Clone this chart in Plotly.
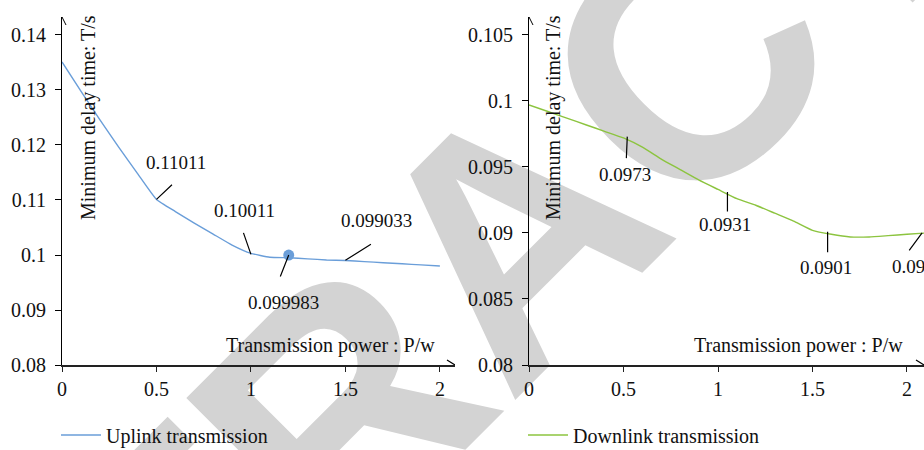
import plotly.graph_objects as go

# ---------------- data ----------------
P_UP = [0.0, 0.1, 0.2, 0.3, 0.4, 0.5, 0.6, 0.7, 0.8, 0.9, 1.0,
        1.1, 1.2, 1.3, 1.4, 1.5, 1.6, 1.7, 1.8, 1.9, 2.0]
T_UP = [0.1351, 0.1298, 0.1246, 0.1196, 0.1148, 0.1101, 0.1079, 0.1058, 0.1038, 0.1018, 0.1003,
        0.0996, 0.0995, 0.0993, 0.0991, 0.0990, 0.0988, 0.0986, 0.0984, 0.0982, 0.0980]

P_DOWN = [0.0, 0.1, 0.2, 0.3, 0.4, 0.5, 0.6, 0.7, 0.8, 0.9, 1.0,
          1.1, 1.2, 1.3, 1.4, 1.5, 1.6, 1.7, 1.8, 1.9, 2.0, 2.1]
T_DOWN = [0.0997, 0.0992, 0.0987, 0.0982, 0.0977, 0.0972, 0.0965, 0.0956, 0.0948, 0.0940, 0.0933,
          0.0926, 0.0921, 0.0915, 0.0909, 0.0902, 0.0899, 0.0897, 0.0897, 0.0898, 0.0899, 0.0900]

MARK_P = [1.2]
MARK_T = [0.099983]

# labelled points: (P, T, text)
UP_LABEL_P = [0.5, 1.0, 1.5, 1.2]
UP_LABEL_T = [0.11011, 0.10011, 0.099033, 0.099983]
UP_LABEL_TXT = ["0.11011", "0.10011", "0.099033", "0.099983"]

DOWN_LABEL_P = [0.52, 1.05, 1.58, 2.08]
DOWN_LABEL_T = [0.0973, 0.0931, 0.0901, 0.09]
DOWN_LABEL_TXT = ["0.0973", "0.0931", "0.0901", "0.09"]

X_TICKS = [0, 0.5, 1, 1.5, 2]
X_TICK_TXT = ["0", "0.5", "1", "1.5", "2"]
Y_TICKS_UP = [0.08, 0.09, 0.10, 0.11, 0.12, 0.13, 0.14]
Y_TICK_TXT_UP = ["0.08", "0.09", "0.1", "0.11", "0.12", "0.13", "0.14"]
Y_TICKS_DOWN = [0.08, 0.085, 0.09, 0.095, 0.10, 0.105]
Y_TICK_TXT_DOWN = ["0.08", "0.085", "0.09", "0.095", "0.1", "0.105"]

SERIES_UP = "Uplink transmission"
SERIES_DOWN = "Downlink transmission"
Y_TITLE = "Minimum delay time: T/s"
X_TITLE = "Transmission power : P/w"
WATERMARK = "RETRACTED"

# ---------------- style ----------------
W, H = 924, 450
FONT = "Liberation Serif"
FS = 20
BLUE = "#6a9ed9"
GREEN = "#8cc43f"
AX_COL = "#222222"

def px(xp):
    return xp / W

def py(yp):
    return 1 - yp / H

fig = go.Figure()
fig.add_trace(go.Scatter(x=P_UP, y=T_UP, mode="lines", name=SERIES_UP,
                         line=dict(color=BLUE, width=1.4, shape="spline", smoothing=0.4),
                         xaxis="x", yaxis="y", legend="legend"))
fig.add_trace(go.Scatter(x=MARK_P, y=MARK_T, mode="markers", showlegend=False,
                         marker=dict(color=BLUE, size=11), xaxis="x", yaxis="y"))
fig.add_trace(go.Scatter(x=P_DOWN, y=T_DOWN, mode="lines", name=SERIES_DOWN,
                         line=dict(color=GREEN, width=1.4, shape="spline", smoothing=0.4),
                         xaxis="x2", yaxis="y2", legend="legend2"))

ydom = [py(365), py(17)]
common_x = dict(showline=True, linecolor=AX_COL, linewidth=1.6, ticks="outside", ticklen=5,
                tickcolor=AX_COL, tickfont=dict(family=FONT, size=FS, color="#111"),
                showgrid=False, zeroline=False, tickvals=X_TICKS, ticktext=X_TICK_TXT,
                automargin=False)
common_y = dict(showline=True, linecolor="#000", linewidth=1, ticks="outside", ticklen=6,
                tickcolor="#000", tickfont=dict(family=FONT, size=FS, color="#111"),
                showgrid=False, zeroline=False, automargin=False, ticklabelstandoff=5)

leg_common = dict(xanchor="left", yanchor="middle", itemwidth=40,
                  font=dict(family=FONT, size=FS, color="#111"), bgcolor="rgba(0,0,0,0)")

fig.update_layout(
    width=W, height=H,
    margin=dict(l=0, r=0, t=0, b=0, pad=0, autoexpand=False),
    paper_bgcolor="white", plot_bgcolor="rgba(0,0,0,0)",
    font=dict(family=FONT, size=FS, color="#111"),
    xaxis=dict(domain=[px(62), px(455)], range=[0, 2.08], anchor="y", **common_x),
    yaxis=dict(domain=ydom, range=[0.08, 0.14327], anchor="x",
               tickvals=Y_TICKS_UP, ticktext=Y_TICK_TXT_UP, **common_y),
    xaxis2=dict(domain=[px(529), 1.0], range=[0, 2.09], anchor="y2", **common_x),
    yaxis2=dict(domain=ydom, range=[0.08, 0.10636], anchor="x2",
                tickvals=Y_TICKS_DOWN, ticktext=Y_TICK_TXT_DOWN, **common_y),
    legend=dict(x=px(56), y=py(435), **leg_common),
    legend2=dict(x=px(523), y=py(435), **leg_common),
)

shapes = []
# watermark (drawn below the plot)
WM_X, WM_Y = 490, 213
shapes.append(dict(type="rect", xref="paper", yref="paper",
                   x0=px(WM_X - 5), x1=px(WM_X + 5), y0=py(WM_Y + 5), y1=py(WM_Y - 5),
                   layer="below", line=dict(width=0), fillcolor="rgba(0,0,0,0)",
                   label=dict(text=WATERMARK, textposition="middle center", textangle=-45,
                              font=dict(family="Liberation Sans", size=340, color="#d3d3d3",
                                        weight="bold"))))
# axis arrowheads
for xa, ya, ytop, xend in [("x", "y", 0.14327, 2.08), ("x2", "y2", 0.10636, 2.09)]:
    shapes.append(dict(type="path", xref=xa, yref=ya, xsizemode="pixel", ysizemode="pixel",
                       xanchor=0, yanchor=ytop, path="M-4,-8 L0,0 L4,-8",
                       line=dict(color="#000", width=1)))
    shapes.append(dict(type="path", xref=xa, yref=ya, xsizemode="pixel", ysizemode="pixel",
                       xanchor=xend, yanchor=0.08, path="M-8,-5 L0,0 L-8,5",
                       line=dict(color="#000", width=1.2)))
fig.update_layout(shapes=shapes)

ann = []
# axis titles
for xc in [88, 553]:
    ann.append(dict(xref="paper", yref="paper", x=px(xc), y=py(118), text=Y_TITLE,
                    textangle=-90, showarrow=False, xanchor="center", yanchor="middle",
                    font=dict(family=FONT, size=FS, color="#111")))
for xr in [437, 905]:
    ann.append(dict(xref="paper", yref="paper", x=px(xr), y=py(345), text=X_TITLE,
                    showarrow=False, xanchor="right", yanchor="middle",
                    font=dict(family=FONT, size=FS, color="#111")))

# data labels: leader offsets (ax, ay) and text shifts (xshift, yshift) in pixels
UP_LEADER = [(17, -16), (-8, -23), (27, -17), (-9, 23)]
UP_TEXT = [(20, 37), (-6, 44), (31, 40), (-5, -47)]
DOWN_LEADER = [(-1, 23), (0, 21), (0, 22), (-14, 19)]
DOWN_TEXT = [(-2, -38), (-2, -32), (-2, -36), (-32, -34)]

def add_labels(P, T, TXT, LEAD, TXTOFF, xa, ya, last_left=False):
    for i, (p, t, s) in enumerate(zip(P, T, TXT)):
        ax_, ay_ = LEAD[i]
        ann.append(dict(xref=xa, yref=ya, x=p, y=t, text="", showarrow=True,
                        arrowhead=0, arrowwidth=1.2, arrowcolor="#000",
                        ax=ax_, ay=ay_, axref="pixel", ayref="pixel"))
        xs, ys = TXTOFF[i]
        anchor = "left" if (last_left and i == len(P) - 1) else "center"
        ann.append(dict(xref=xa, yref=ya, x=p, y=t, text=s, showarrow=False,
                        xshift=xs, yshift=ys, xanchor=anchor, yanchor="middle",
                        font=dict(family=FONT, size=FS - 1, color="#111")))

add_labels(UP_LABEL_P, UP_LABEL_T, UP_LABEL_TXT, UP_LEADER, UP_TEXT, "x", "y")
add_labels(DOWN_LABEL_P, DOWN_LABEL_T, DOWN_LABEL_TXT, DOWN_LEADER, DOWN_TEXT, "x2", "y2",
           last_left=True)
fig.update_layout(annotations=ann)

fig.write_html("out.html", config={"displayModeBar": False},
               post_script="document.body.style.margin='0';document.body.style.overflow='hidden';")
